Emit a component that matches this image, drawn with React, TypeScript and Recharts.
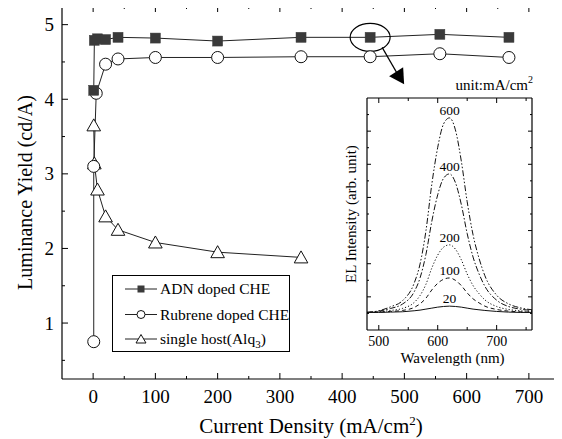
import React from 'react';
import { LineChart, Line, XAxis, YAxis, ReferenceDot, Label, Legend } from 'recharts';

const FONT = '"Liberation Serif", "Times New Roman", serif';

// ---------- main chart data ----------
const adnCurrent = [1, 2, 7, 20, 40, 100, 200, 334, 445, 557, 668];
const adnYield = [4.12, 4.79, 4.81, 4.8, 4.83, 4.82, 4.78, 4.83, 4.83, 4.87, 4.83];
const rubCurrent = [1, 1, 5, 20, 40, 100, 200, 334, 445, 557, 668];
const rubYield = [0.75, 3.1, 4.08, 4.47, 4.54, 4.56, 4.56, 4.57, 4.57, 4.61, 4.56];
const alqCurrent = [1, 2, 7, 20, 40, 100, 200, 334];
const alqYield = [3.65, 3.14, 2.79, 2.43, 2.25, 2.08, 1.95, 1.88];

const xTicks = [0, 50, 100, 150, 200, 250, 300, 350, 400, 450, 500, 550, 600, 650, 700];
const yTicks = [0.5, 1, 1.5, 2, 2.5, 3, 3.5, 4, 4.5, 5];
const seriesNames = ['ADN doped CHE', 'Rubrene doped CHE', 'single host(Alq'];

// ---------- inset data ----------
const wavelengths = [480, 500, 520, 540, 560, 570, 580, 590, 600, 610, 620, 630, 640, 650, 660, 670, 680, 700, 720, 740, 760];
const el20 = [0.53, 0.53, 0.54, 0.55, 0.58, 0.6, 0.63, 0.66, 0.69, 0.71, 0.72, 0.71, 0.69, 0.66, 0.63, 0.61, 0.59, 0.56, 0.54, 0.53, 0.53];
const el100 = [0.53, 0.54, 0.56, 0.59, 0.68, 0.79, 0.96, 1.21, 1.41, 1.53, 1.57, 1.5, 1.34, 1.12, 0.94, 0.82, 0.72, 0.62, 0.57, 0.55, 0.54];
const el200 = [0.53, 0.55, 0.59, 0.65, 0.83, 1.04, 1.38, 1.87, 2.26, 2.5, 2.57, 2.44, 2.12, 1.69, 1.34, 1.1, 0.91, 0.71, 0.62, 0.58, 0.56];
const el400 = [0.53, 0.57, 0.65, 0.78, 1.15, 1.57, 2.28, 3.28, 4.08, 4.58, 4.71, 4.45, 3.79, 2.91, 2.2, 1.7, 1.32, 0.9, 0.71, 0.63, 0.59];
const el600 = [0.53, 0.58, 0.7, 0.88, 1.41, 1.99, 2.99, 4.4, 5.51, 6.22, 6.4, 6.04, 5.1, 3.87, 2.87, 2.17, 1.64, 1.05, 0.79, 0.67, 0.61];
const spectraLabels = ['20', '100', '200', '400', '600'];
const peakWavelength = 620;
const insetXTicks = [500, 550, 600, 650, 700, 750];
const insetYTicks = [0.5, 1, 1.5, 2, 2.5, 3, 3.5, 4, 4.5, 5, 5.5, 6, 6.5];

const adnData = adnCurrent.map((x, i) => ({ x, y: adnYield[i] }));
const rubData = rubCurrent.map((x, i) => ({ x, y: rubYield[i] }));
const alqData = alqCurrent.map((x, i) => ({ x, y: alqYield[i] }));

const spectra = [el20, el100, el200, el400, el600];
const spectrumData = wavelengths.map((w, i) => ({
  w,
  s0: el20[i],
  s1: el100[i],
  s2: el200[i],
  s3: el400[i],
  s4: el600[i],
}));
const dashes = ['', '4 3', '1.2 2', '6 2 1.5 2', '6 2 1.5 2 1.5 2'];

// ---------- markers ----------
const SquareDot = (p: any) =>
  p.cx == null ? <g /> : <rect x={p.cx - 5} y={p.cy - 5} width={10} height={10} fill="#3a3a3a" stroke="#3a3a3a" strokeWidth={0.5} />;
const TriDot = (p: any) =>
  p.cx == null ? <g /> : (
    <polygon
      points={`${p.cx},${p.cy - 6.5} ${p.cx - 6.8},${p.cy + 5.5} ${p.cx + 6.8},${p.cy + 5.5}`}
      fill="#fff"
      stroke="#111"
      strokeWidth={1}
    />
  );

// ---------- ticks ----------
const BottomTick = (p: any) => {
  const v = p.payload.value;
  const major = v % 100 === 0;
  return (
    <g>
      <line x1={p.x} x2={p.x} y1={p.y} y2={p.y - (major ? 6 : 3)} stroke="#000" />
      {major && (
        <text x={p.x} y={p.y + 24} textAnchor="middle" fontSize={19} fontFamily={FONT} fill="#000">
          {v}
        </text>
      )}
    </g>
  );
};
const TopTick = (p: any) => {
  const v = p.payload.value;
  const major = v % 100 === 0;
  return <line x1={p.x} x2={p.x} y1={p.y} y2={p.y + (major ? 6 : 3)} stroke="#000" />;
};
const LeftTick = (p: any) => {
  const v = p.payload.value;
  const major = Number.isInteger(v);
  return (
    <g>
      <line x1={p.x} x2={p.x + (major ? 6 : 3)} y1={p.y} y2={p.y} stroke="#000" />
      {major && (
        <text x={p.x - 8} y={p.y + 6.5} textAnchor="end" fontSize={19} fontFamily={FONT} fill="#000">
          {v}
        </text>
      )}
    </g>
  );
};
const RightTick = (p: any) => {
  const v = p.payload.value;
  const major = Number.isInteger(v);
  return <line x1={p.x} x2={p.x - (major ? 6 : 3)} y1={p.y} y2={p.y} stroke="#000" />;
};

const InsetBottomTick = (p: any) => {
  const v = p.payload.value;
  const major = v % 100 === 0;
  return (
    <g>
      <line x1={p.x} x2={p.x} y1={p.y} y2={p.y - (major ? 5 : 3)} stroke="#000" />
      {major && (
        <text x={p.x} y={p.y + 16} textAnchor="middle" fontSize={14} fontFamily={FONT} fill="#000">
          {v}
        </text>
      )}
    </g>
  );
};
const InsetTopTick = (p: any) => {
  const v = p.payload.value;
  const major = v % 100 === 0;
  return <line x1={p.x} x2={p.x} y1={p.y} y2={p.y + (major ? 5 : 3)} stroke="#000" />;
};
const InsetLeftTick = (p: any) => {
  const major = Number.isInteger(p.payload.value);
  return <line x1={p.x} x2={p.x + (major ? 4 : 2)} y1={p.y} y2={p.y} stroke="#000" />;
};
const InsetRightTick = (p: any) => {
  const major = Number.isInteger(p.payload.value);
  return <line x1={p.x} x2={p.x - (major ? 4 : 2)} y1={p.y} y2={p.y} stroke="#000" />;
};

// ---------- legend ----------
const legendMarkers = [
  (cx: number, cy: number) => <rect x={cx - 3.5} y={cy - 3.5} width={7} height={7} fill="#3a3a3a" />,
  (cx: number, cy: number) => <circle cx={cx} cy={cy} r={4} fill="#fff" stroke="#111" />,
  (cx: number, cy: number) => (
    <polygon points={`${cx},${cy - 4.5} ${cx - 5},${cy + 4} ${cx + 5},${cy + 4}`} fill="#fff" stroke="#111" />
  ),
];
const LegendBox = () => {
  const rows = [14, 39.5, 64];
  return (
    <svg width={178} height={77} style={{ display: 'block' }}>
      <rect x={0.5} y={0.5} width={177} height={76} fill="#fff" stroke="#000" strokeWidth={1} />
      {seriesNames.map((name, i) => (
        <g key={name}>
          <line x1={13} x2={45} y1={rows[i]} y2={rows[i]} stroke="#222" />
          {legendMarkers[i](29, rows[i])}
          <text x={48} y={rows[i] + 5} fontSize={15.5} fontFamily={FONT} fill="#000">
            {name}
            {i === 2 && (
              <>
                <tspan dy={4} fontSize={11}>3</tspan>
                <tspan dy={-4}>)</tspan>
              </>
            )}
          </text>
        </g>
      ))}
    </svg>
  );
};

// ---------- annotation ----------
const Callout = (p: any) => {
  if (p.cx == null) return <g />;
  const { cx, cy } = p;
  return (
    <g>
      <ellipse cx={cx} cy={cy} rx={20} ry={14} fill="none" stroke="#000" strokeWidth={1.2} />
      <line x1={cx + 12} y1={cy + 10} x2={cx + 27} y2={cy + 36} stroke="#000" strokeWidth={1.2} />
      <polygon points={`${cx + 19},${cy + 39} ${cx + 33},${cy + 30} ${cx + 34},${cy + 47}`} fill="#000" />
    </g>
  );
};

const PeakLabel = (text: string) => (lp: any) => {
  const vb = lp.viewBox || {};
  const x = vb.x != null ? vb.x + (vb.width || 0) / 2 : lp.x;
  const y = vb.y != null ? vb.y : lp.y;
  return (
    <text x={x} y={y - 3} textAnchor="middle" fontSize={13.5} fontFamily={FONT} fill="#000">
      {text}
    </text>
  );
};

export default function App() {
  return (
    <div style={{ position: 'relative', width: 562, height: 439, margin: '-8px 0 0 -8px', background: '#fff', fontFamily: FONT }}>
      <LineChart width={562} height={439} data={adnData} margin={{ top: 5, right: 1, bottom: 59, left: 61 }}>
        <XAxis
          type="number"
          dataKey="x"
          domain={[-50, 750]}
          ticks={xTicks}
          interval={0}
          height={1}
          tickSize={0}
          tickMargin={0}
          tickLine={false}
          axisLine={{ stroke: '#000', strokeWidth: 1.2 }}
          tick={<BottomTick />}
          allowDataOverflow
        >
          <Label
            content={(lp: any) => {
              const vb = lp.viewBox;
              return (
                <text x={vb.x + vb.width / 2} y={vb.y + 54} textAnchor="middle" fontSize={21} fontFamily={FONT} fill="#000">
                  Current Density (mA/cm
                  <tspan dy={-8} fontSize={13}>2</tspan>
                  <tspan dy={8}>)</tspan>
                </text>
              );
            }}
          />
        </XAxis>
        <XAxis
          xAxisId="top"
          orientation="top"
          type="number"
          dataKey="x"
          domain={[-50, 750]}
          ticks={xTicks}
          interval={0}
          height={1}
          tickSize={0}
          tickMargin={0}
          tickLine={false}
          axisLine={{ stroke: '#000', strokeWidth: 1.2 }}
          tick={<TopTick />}
          allowDataOverflow
        />
        <YAxis
          type="number"
          domain={[0.25, 5.25]}
          ticks={yTicks}
          interval={0}
          width={1}
          tickSize={0}
          tickMargin={0}
          tickLine={false}
          axisLine={{ stroke: '#000', strokeWidth: 1.2 }}
          tick={<LeftTick />}
          allowDataOverflow
        >
          <Label
            content={(lp: any) => {
              const vb = lp.viewBox;
              const cy = vb.y + vb.height / 2;
              return (
                <text x={32} y={cy} transform={`rotate(-90, 32, ${cy})`} textAnchor="middle" fontSize={20} fontFamily={FONT} fill="#000">
                  Luminance Yield (cd/A)
                </text>
              );
            }}
          />
        </YAxis>
        <YAxis
          yAxisId="right"
          orientation="right"
          type="number"
          domain={[0.25, 5.25]}
          ticks={yTicks}
          interval={0}
          width={1}
          tickSize={0}
          tickMargin={0}
          tickLine={false}
          axisLine={{ stroke: '#000', strokeWidth: 1.2 }}
          tick={<RightTick />}
          allowDataOverflow
        />
        <Line data={alqData} dataKey="y" type="linear" stroke="#222" strokeWidth={1} dot={<TriDot />} isAnimationActive={false} />
        <Line data={rubData} dataKey="y" type="linear" stroke="#222" strokeWidth={1} dot={{ r: 6, fill: '#fff', stroke: '#111', strokeWidth: 1 }} isAnimationActive={false} />
        <Line data={adnData} dataKey="y" type="linear" stroke="#222" strokeWidth={1} dot={<SquareDot />} isAnimationActive={false} />
        <ReferenceDot x={adnCurrent[8]} y={adnYield[8]} r={0} shape={<Callout />} />
        <Legend
          layout="vertical"
          align="center"
          verticalAlign="middle"
          wrapperStyle={{ position: 'absolute', left: 112, top: 275, width: 178, height: 77 }}
          content={() => <LegendBox />}
        />
      </LineChart>

      <div style={{ position: 'absolute', left: 330, top: 70 }}>
        <LineChart width={232} height={300} data={spectrumData} margin={{ top: 27, right: 29, bottom: 39, left: 36 }}>
          <XAxis
            type="number"
            dataKey="w"
            domain={[480, 760]}
            ticks={insetXTicks}
            interval={0}
            height={1}
            tickSize={0}
            tickMargin={0}
            tickLine={false}
            axisLine={{ stroke: '#000', strokeWidth: 1.2 }}
            tick={<InsetBottomTick />}
            allowDataOverflow
          >
            <Label
              content={(lp: any) => {
                const vb = lp.viewBox;
                return (
                  <text x={vb.x + vb.width / 2 + 3} y={vb.y + 33} textAnchor="middle" fontSize={15} fontFamily={FONT} fill="#000">
                    Wavelength (nm)
                  </text>
                );
              }}
            />
          </XAxis>
          <XAxis
            xAxisId="top"
            orientation="top"
            type="number"
            dataKey="w"
            domain={[480, 760]}
            ticks={insetXTicks}
            interval={0}
            height={1}
            tickSize={0}
            tickMargin={0}
            tickLine={false}
            axisLine={{ stroke: '#000', strokeWidth: 1.2 }}
            tick={<InsetTopTick />}
            allowDataOverflow
          >
            <Label
              content={(lp: any) => {
                const vb = lp.viewBox;
                return (
                  <text x={vb.x + vb.width + 1} y={vb.y - 7} textAnchor="end" fontSize={15} fontFamily={FONT} fill="#000">
                    unit:mA/cm
                    <tspan dy={-7} fontSize={10}>2</tspan>
                  </text>
                );
              }}
            />
          </XAxis>
          <YAxis
            type="number"
            domain={[0, 7]}
            ticks={insetYTicks}
            interval={0}
            width={1}
            tickSize={0}
            tickMargin={0}
            tickLine={false}
            axisLine={{ stroke: '#000', strokeWidth: 1.2 }}
            tick={<InsetLeftTick />}
            allowDataOverflow
          >
            <Label
              content={(lp: any) => {
                const vb = lp.viewBox;
                const cy = vb.y + vb.height / 2;
                const lx = 26;
                return (
                  <text x={lx} y={cy} transform={`rotate(-90, ${lx}, ${cy})`} textAnchor="middle" fontSize={15} fontFamily={FONT} fill="#000">
                    EL Intensity (arb. unit)
                  </text>
                );
              }}
            />
          </YAxis>
          <YAxis
            yAxisId="right"
            orientation="right"
            type="number"
            domain={[0, 7]}
            ticks={insetYTicks}
            interval={0}
            width={1}
            tickSize={0}
            tickMargin={0}
            tickLine={false}
            axisLine={{ stroke: '#000', strokeWidth: 1.2 }}
            tick={<InsetRightTick />}
            allowDataOverflow
          />
          {spectra.map((_, i) => (
            <Line
              key={i}
              dataKey={`s${i}`}
              type="monotone"
              stroke="#111"
              strokeWidth={1}
              strokeDasharray={dashes[i] || undefined}
              dot={false}
              isAnimationActive={false}
            />
          ))}
          {spectra.map((s, i) => (
            <ReferenceDot
              key={`lab${i}`}
              x={peakWavelength}
              y={s[wavelengths.indexOf(peakWavelength)]}
              r={0}
              fill="none"
              stroke="none"
              label={{ content: PeakLabel(spectraLabels[i]) }}
            />
          ))}
        </LineChart>
      </div>
    </div>
  );
}
